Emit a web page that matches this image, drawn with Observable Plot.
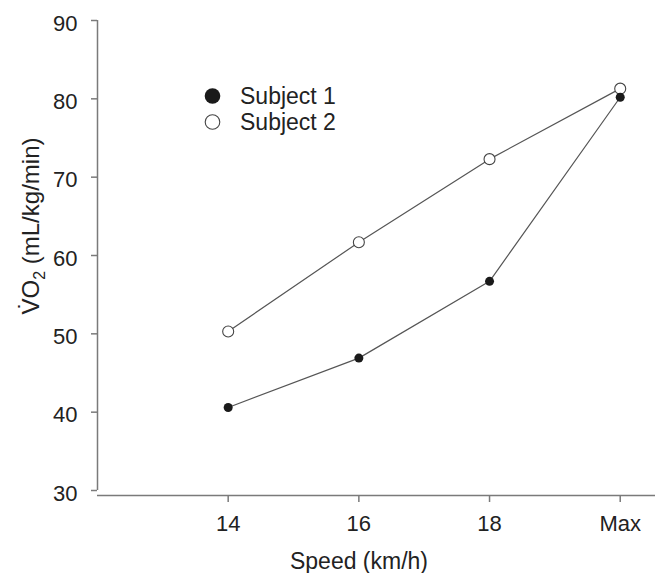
<!DOCTYPE html>
<html><head><meta charset="utf-8">
<script src="https://cdn.jsdelivr.net/npm/d3@7"></script>
<script src="https://cdn.jsdelivr.net/npm/@observablehq/plot@0.6"></script>
<style>body{margin:0;background:#fff} #chart{position:relative;width:657px;height:573px}</style>
</head><body><div id="chart"></div>
<script>
const speeds = ["14", "16", "18", "Max"];
const subject1 = [40.6, 46.9, 56.7, 80.2];
const subject2 = [50.3, 61.7, 72.3, 81.3];
const seriesNames = ["Subject 1", "Subject 2"];
const yTicks = [30, 40, 50, 60, 70, 80, 90];
const yDomain = [30, 90];
const xDomain = [-1, 3.27];

const rows = [];
speeds.forEach((s, i) => {
  rows.push({i, speed: s, vo2: subject1[i], subject: seriesNames[0]});
  rows.push({i, speed: s, vo2: subject2[i], subject: seriesNames[1]});
});
const xIdx = speeds.map((_, i) => i);
const font = "'Liberation Sans', Arial, Helvetica, sans-serif";

const plot = Plot.plot({
  width: 657, height: 573,
  marginLeft: 97, marginTop: 20, marginRight: 2, marginBottom: 78,
  style: {fontFamily: font, fontSize: "22px", color: "#222", background: "#fff", overflow: "visible"},
  x: {type: "linear", domain: xDomain},
  y: {domain: yDomain, insetBottom: 5},
  marks: [
    Plot.ruleX([xDomain[0]], {y1: yDomain[0], y2: yDomain[1], stroke: "#7a7a7a", strokeWidth: 1.5}),
    Plot.ruleY([yDomain[0]], {dy: 5, stroke: "#7a7a7a", strokeWidth: 1.5}),
    Plot.axisY({ticks: yTicks, tickSize: 6, tickFormat: () => "", stroke: "#7a7a7a", strokeWidth: 1.5, label: null}),
    Plot.axisY({ticks: yTicks, tickSize: 0, tickPadding: 20, dy: 3, fill: "#222", label: null}),
    Plot.axisX({ticks: xIdx, tickSize: 7, tickFormat: () => "", stroke: "#7a7a7a", strokeWidth: 1.5, label: null}),
    Plot.axisX({ticks: xIdx, tickSize: 0, tickPadding: 20, tickFormat: i => speeds[i], fill: "#222", label: null}),
    Plot.line(rows, {x: "i", y: "vo2", z: "subject", stroke: "#555", strokeWidth: 1.2}),
    Plot.dot(rows.filter(d => d.subject === seriesNames[1]), {x: "i", y: "vo2", r: 5.5, fill: "white", stroke: "#444", strokeWidth: 1.1}),
    Plot.dot(rows.filter(d => d.subject === seriesNames[0]), {x: "i", y: "vo2", r: 4.5, fill: "#1a1a1a", stroke: "none"})
  ]
});
document.getElementById("chart").appendChild(plot);

const svg = d3.select(plot);
// x-axis title
svg.append("text").attr("x", 359).attr("y", 569).attr("text-anchor", "middle")
  .attr("font-family", font).attr("font-size", 23).attr("fill", "#222").text("Speed (km/h)");
// y-axis title
const yl = svg.append("text").attr("transform", "translate(39,226) rotate(-90)")
  .attr("text-anchor", "middle").attr("font-family", font).attr("font-size", 24).attr("fill", "#222");
yl.append("tspan").text("V\u0307O");
yl.append("tspan").attr("font-size", 16).attr("dy", 6).text("2");
yl.append("tspan").attr("dy", -6).text(" (mL/kg/min)");
// legend
const lg = svg.append("g").attr("text-anchor", "start");
seriesNames.forEach((name, k) => {
  const cy = 96 + k * 26;
  lg.append("circle").attr("cx", 212.5).attr("cy", cy).attr("r", k === 0 ? 7.8 : 7.3)
    .attr("fill", k === 0 ? "#1a1a1a" : "white").attr("stroke", k === 0 ? "none" : "#444").attr("stroke-width", 1.1);
  lg.append("text").attr("x", 240).attr("y", cy + 8).attr("text-anchor", "start").attr("font-family", font)
    .attr("font-size", 23).attr("fill", "#222").text(name);
});
</script>
</body></html>
